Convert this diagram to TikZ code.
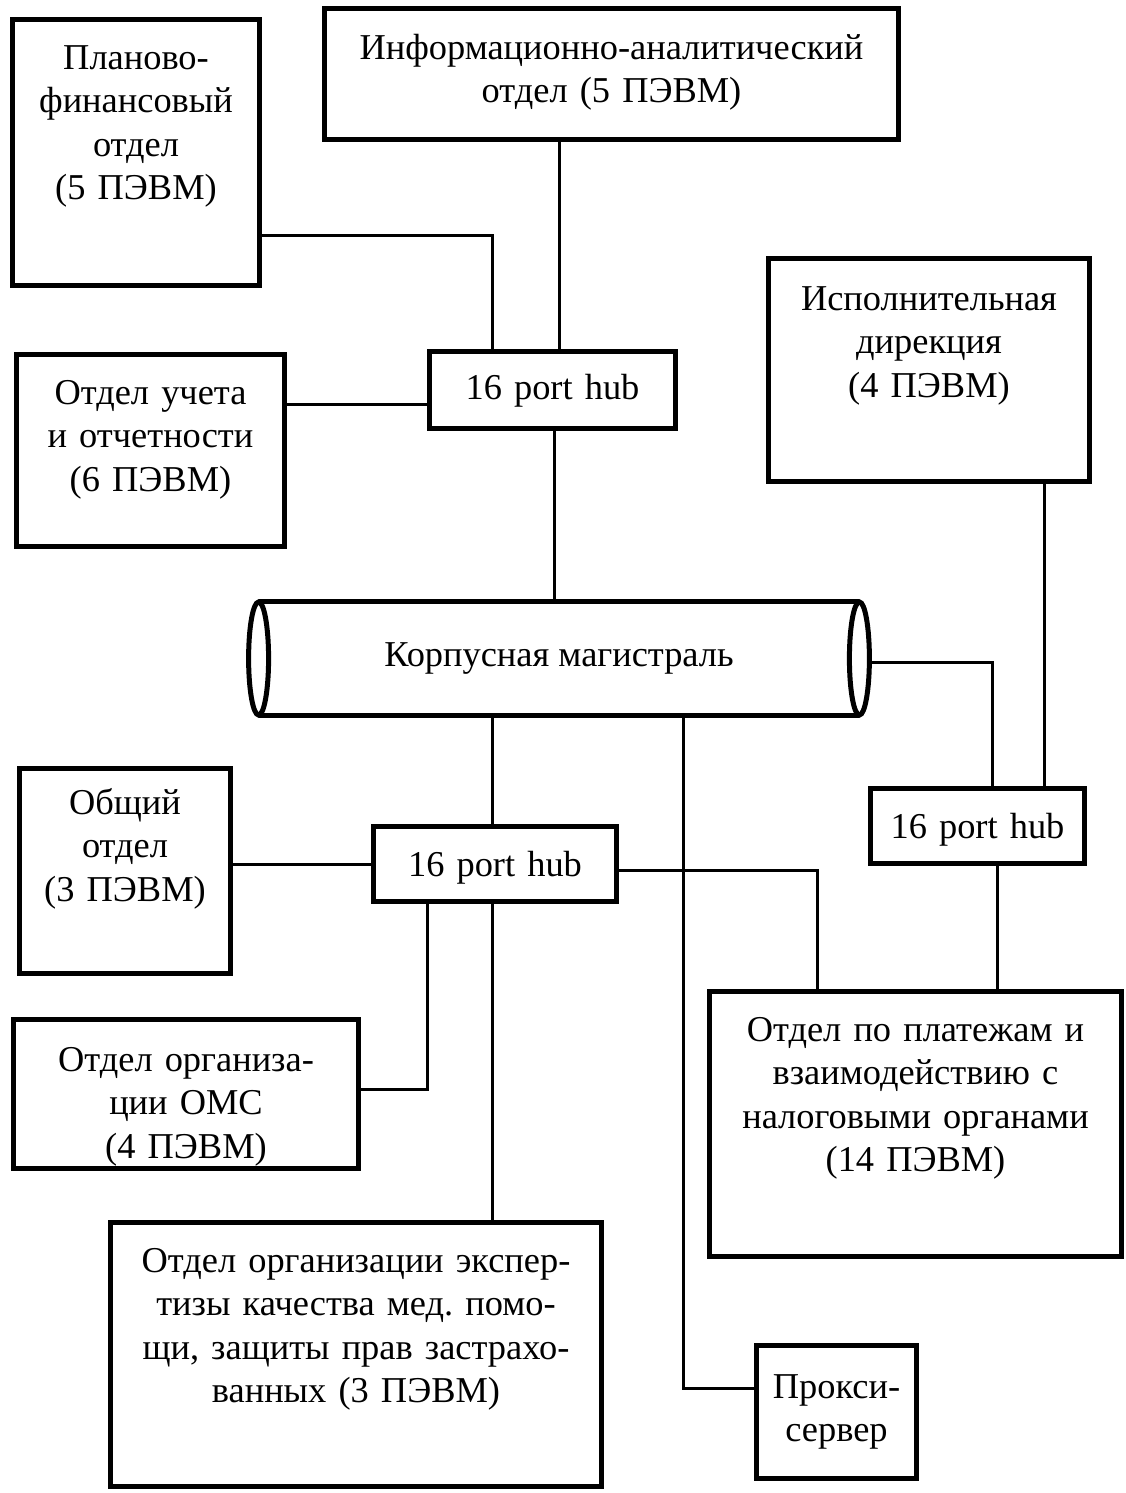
\documentclass[tikz,border=0pt]{standalone}
\usepackage{fontspec}
\setmainfont{Liberation Serif}
\frenchspacing

\begin{document}
\begin{tikzpicture}[x=0.5pt, y=-0.5pt, font=\fontsize{18.2}{21.7}\selectfont,
  dept/.style={draw, line width=2.5pt, inner sep=0pt, align=center, anchor=north west},
  wire/.style={line width=1.5pt}]

\useasboundingbox (0,0) rectangle (1125,1493);
% departments
\node[dept, text width=123.5pt, text height=25pt, text depth=108pt] (plan) at (10,17) {Планово-\\финансовый\\отдел\\(5 ПЭВМ)};
\node[dept, text width=287pt, text height=25.5pt, text depth=40pt] (info) at (322,6) {Информационно-аналитический\\отдел (5 ПЭВМ)};
\node[dept, text width=134pt, text height=25pt, text depth=71pt] (uch) at (14,352) {Отдел учета\\и отчетности\\(6 ПЭВМ)};
\node[dept, text width=160.5pt, text height=26pt, text depth=85.5pt] (isp) at (766,256) {Исполнительная\\дирекция\\(4 ПЭВМ)};
\node[dept, text width=105.5pt, text height=23pt, text depth=79.5pt] (obsh) at (17,766) {Общий\\отдел\\(3 ПЭВМ)};
\node[dept, text width=172.5pt, text height=26pt, text depth=48.5pt] (oms) at (11,1017) {Отдел организа-\\ции ОМС\\(4 ПЭВМ)};
\node[dept, text width=206pt, text height=25pt, text depth=107.5pt] (plat) at (707,989) {Отдел по платежам и\\взаимодействию с\\налоговыми органами\\(14 ПЭВМ)};
\node[dept, text width=245.5pt, text height=25pt, text depth=107pt] (exp) at (108,1220) {Отдел организации экспер-\\тизы качества мед. помо-\\щи, защиты прав застрахо-\\ванных (3 ПЭВМ)};
\node[dept, text width=80pt, text height=26.5pt, text depth=40pt] (proxy) at (754,1343) {Прокси-\\сервер};
% hubs
\node[dept, text width=123pt, text height=24pt, text depth=14.5pt] (hub1) at (427,349) {16 port hub};
\node[dept, text width=121.5pt, text height=25pt, text depth=12.5pt] (hub2) at (371,824) {16 port hub};
\node[dept, text width=107pt, text height=25pt, text depth=12.5pt] (hub3) at (868,786) {16 port hub};
% backbone
\node[minimum width=300pt, minimum height=56.5pt, inner sep=0pt] (bus) at (559,658.5) {Корпусная магистраль};
\draw[line width=2.5pt] (bus.north west) -- (bus.north east) (bus.south west) -- (bus.south east);
\draw[line width=2.5pt, fill=white] (bus.west) ellipse (5pt and 28.25pt) (bus.east) ellipse (5pt and 28.25pt);

% links to hub1
\draw[wire] ([yshift=-41.5pt]plan.east) -| ([xshift=-30pt]hub1.north);
\draw[wire] ([xshift=3.5pt]hub1.north) -- ([xshift=3.5pt]hub1.north |- info.south);
\draw[wire] ([yshift=-7pt]hub1.west) -- ([yshift=-7pt]hub1.west -| uch.east);
\draw[wire] ([xshift=1pt]hub1.south) -- ([xshift=1pt]hub1.south |- bus.north);
% links to hub3
\draw[wire] ([xshift=33.5pt]hub3.north) -- ([xshift=33.5pt]hub3.north |- isp.south);
\draw[wire] ([xshift=5pt,yshift=-2pt]bus.east) -| ([xshift=7.5pt]hub3.north);
\draw[wire] ([xshift=10pt]hub3.south) -- ([xshift=10pt]hub3.south |- plat.north);
% links to hub2
\draw[wire] ([xshift=-1.25pt]hub2.north) -- ([xshift=-1.25pt]hub2.north |- bus.south);
\draw[wire] (hub2.west) -- (hub2.west -| obsh.east);
\draw[wire] ([yshift=-3pt]hub2.east) -| ([xshift=-49pt]plat.north);
\draw[wire] ([xshift=-33.75pt]hub2.south) |- ([yshift=2.25pt]oms.east);
\draw[wire] ([xshift=-1.25pt]hub2.south) -- ([xshift=-1.25pt]hub2.south |- exp.north);
% proxy
\draw[wire] ([xshift=62pt]bus.south) |- ([yshift=12pt]proxy.west);
\end{tikzpicture}
\end{document}
